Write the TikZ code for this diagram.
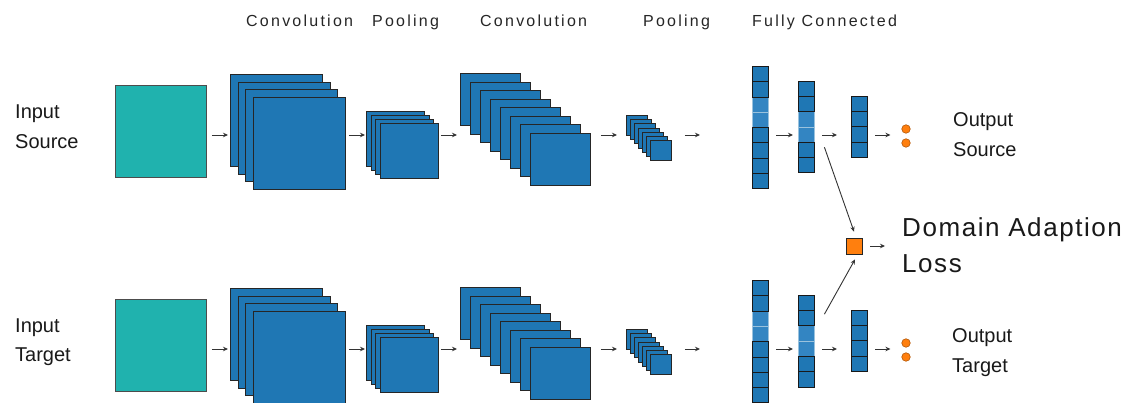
\documentclass[tikz,border=0pt]{standalone}
\usepackage{fontspec}
\setmainfont{Liberation Sans}
\newfontfamily\titlefont[LetterSpace=14]{Liberation Sans}
\newfontfamily\lossfont[LetterSpace=6]{Liberation Sans}
\usetikzlibrary{arrows.meta,calc}
\definecolor{cblue}{HTML}{1F77B4}
\definecolor{cteal}{HTML}{20B2AE}
\definecolor{corange}{HTML}{FF7F0E}
\definecolor{clight}{HTML}{3385C2}
\tikzset{
  layer/.style={draw=black!85, fill=cblue, line width=0.8pt, inner sep=0pt, anchor=north west},
  inputbox/.style={draw=black!70, fill=cteal, line width=0.8pt, inner sep=0pt, anchor=north west},
  cell/.style={draw=black!90, fill=cblue, line width=0.9pt, inner sep=0pt, anchor=north west, minimum width=16, minimum height=15.3},
  lcell/.style={draw=cblue!45!white, line width=0.4pt, fill=clight, inner sep=0pt, anchor=north west, minimum width=16, minimum height=15.3},
  colbox/.style={draw=none, inner sep=0pt, anchor=north west, minimum width=16},
  dot/.style={circle, fill=corange, draw=corange!70!black, line width=0.6pt, minimum size=8.5, inner sep=0pt},
  lossbox/.style={fill=corange, draw=black!85, line width=0.8pt, minimum size=16, inner sep=0pt},
  conn/.style={-{Stealth[length=5pt,width=4.5pt]}, line width=0.9pt, draw=black!80},
  lbl/.style={inner sep=0pt, anchor=base west, font=\fontsize{20}{24}\selectfont, text=black!90},
  ttl/.style={inner sep=0pt, anchor=base west, font=\titlefont\fontsize{16}{18}\selectfont, text=black!85},
  losslbl/.style={inner sep=0pt, anchor=base west, font=\lossfont\fontsize{26}{30}\selectfont, text=black!90}
}
% #1 name, #2 x0, #3 y0, #4 w, #5 h, #6 n, #7 dx, #8 dy
\newcommand\layerstack[8]{%
  \pgfmathtruncatemacro\lastidx{#6-1}%
  \foreach \i in {0,...,\lastidx}{%
    \node[layer, minimum width=#4, minimum height=#5] (#1-\i) at ({#2+\i*#7},{#3+\i*#8}) {};
  }}
% #1 name, #2 x, #3 ytop, #4 n, #5 pattern
\newcommand\fccol[5]{%
  \node[colbox, minimum height={#4*15.3}] (#1) at (#2,#3) {};
  \foreach \v [count=\k from 0] in {#5}{%
    \ifnum\v=0 \node[lcell] (#1-\k) at (#2,{#3+\k*15.3}) {};\fi
  }
  \foreach \v [count=\k from 0] in {#5}{%
    \ifnum\v=1 \node[cell] (#1-\k) at (#2,{#3+\k*15.3}) {};\fi
  }}
% #1 suffix, #2 vertical shift
\newcommand\branch[2]{%
  \coordinate (r#1) at (0,{135+#2});
  \node[inputbox, minimum width=91, minimum height=92] (in#1) at (115,{85+#2}) {};
  \layerstack{ca#1}{230}{74+#2}{92}{92}{4}{7.7}{7.7}
  \layerstack{pa#1}{366}{111+#2}{58}{55}{4}{4.7}{4}
  \layerstack{cb#1}{460}{73+#2}{60}{52}{8}{10}{8.57}
  \layerstack{pb#1}{626}{115+#2}{21}{20}{7}{4}{4.2}
  \fccol{fa#1}{752}{66+#2}{8}{1,1,0,0,1,1,1,1}
  \fccol{fb#1}{798}{80.7+#2}{6}{1,1,0,0,1,1}
  \fccol{fc#1}{851}{95.7+#2}{4}{1,1,1,1}
  \node[dot] (da#1) at (906,{129+#2}) {};
  \node[dot] (db#1) at (906,{143+#2}) {};
  \draw[conn] ($(in#1.east|-r#1)+(5,0)$) -- ($(ca#1-0.west|-r#1)+(-2,0)$);
  \draw[conn] ($(ca#1-3.east|-r#1)+(3,0)$) -- ($(pa#1-0.west|-r#1)+(-1,0)$);
  \draw[conn] ($(pa#1-3.east|-r#1)+(2,0)$) -- ($(cb#1-0.west|-r#1)+(-3,0)$);
  \draw[conn] ($(cb#1-7.east|-r#1)+(10,0)$) -- ($(pb#1-0.west|-r#1)+(-9,0)$);
  \draw[conn] ($(pb#1-6.east|-r#1)+(13,0)$) -- ($(fa#1.west|-r#1)+(-52,0)$);
  \draw[conn] ($(fa#1.east|-r#1)+(8,0)$) -- ($(fb#1.west|-r#1)+(-5,0)$);
  \draw[conn] ($(fb#1.east|-r#1)+(8,0)$) -- ($(fc#1.west|-r#1)+(-14,0)$);
  \draw[conn] ($(fc#1.east|-r#1)+(8,0)$) -- ($(da#1.west|-r#1)+(-11,0)$);
}
\begin{document}
\begin{tikzpicture}[x=1pt,y=-1pt]
\useasboundingbox (0,0) rectangle (1127,403);
\fill[white] (0,0) rectangle (1127,403);
\branch{S}{0}
\branch{T}{214}
% titles
\node[ttl] (t1) at (246,26.7) {Convolution};
\node[ttl] (t2) at (372,26.7) {Pooling};
\node[ttl] (t3) at (480,26.7) {Convolution};
\node[ttl] (t4) at (643,26.7) {Pooling};
\node[ttl] (t5) at (752,26.7) {Fully Connected};
% side labels
\node[lbl] (inS1) at (15,119) {Input};
\node[lbl] (inS2) at (15,149) {Source};
\node[lbl] (inT1) at (15,332) {Input};
\node[lbl] (inT2) at (15,361) {Target};
\node[lbl] (outS1) at (953,127) {Output};
\node[lbl] (outS2) at (953,157) {Source};
\node[lbl] (outT1) at (952,342) {Output};
\node[lbl] (outT2) at (952,372) {Target};
% loss
\node[lossbox] (loss) at (854,246) {};
\node[losslbl] (dom1) at (902,237) {Domain Adaption};
\node[losslbl] (dom2) at (902,273) {Loss};
\draw[conn] ($(fbS.east)+(10,20.4)$) -- ($(loss.north)+(0,-6)$);
\draw[conn] ($(fbT.east)+(10,-26.6)$) -- ($(loss.south)+(1,5)$);
\draw[conn] ($(loss.east)+(8,0)$) -- ($(dom1.west|-loss.east)+(-17,0)$);
\end{tikzpicture}
\end{document}
